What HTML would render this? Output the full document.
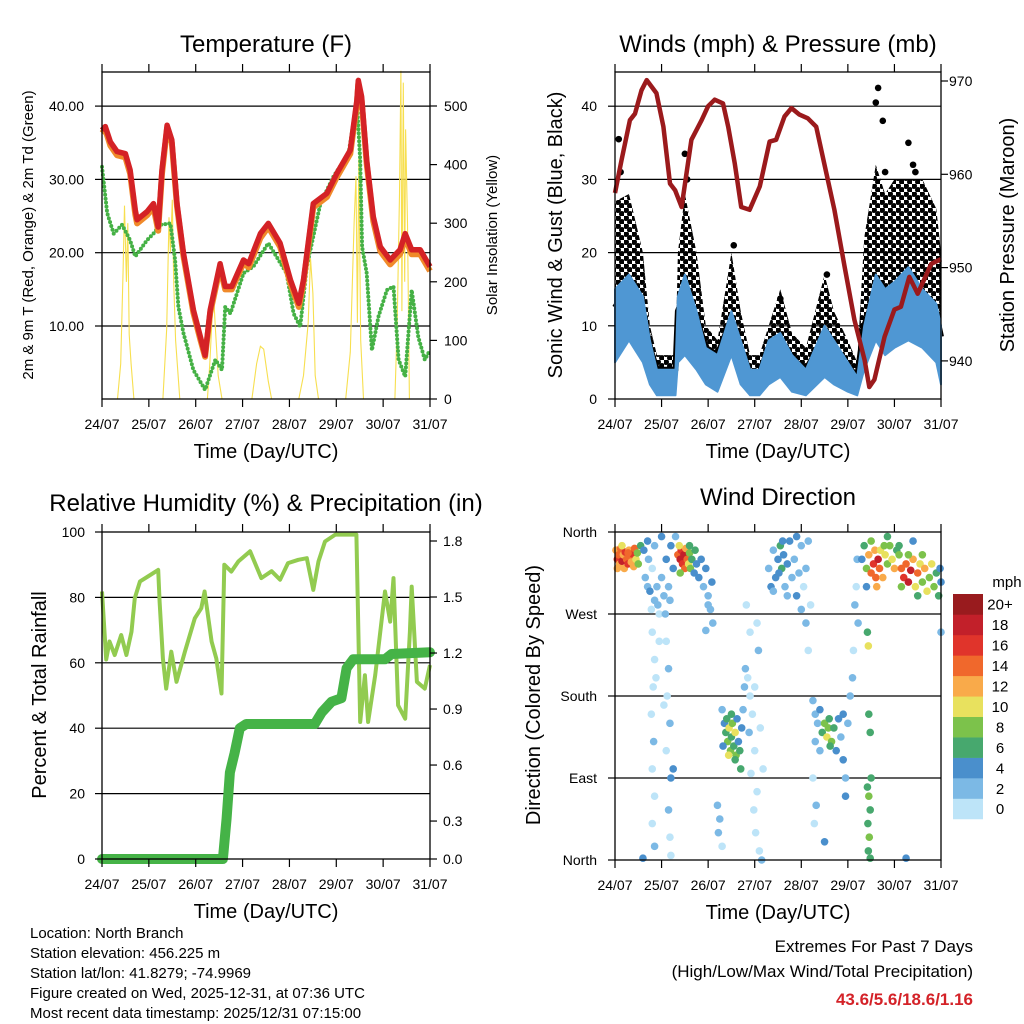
<!DOCTYPE html>
<html><head><meta charset="utf-8"><style>
html,body{margin:0;padding:0;background:#fff;}
svg{display:block;font-family:"Liberation Sans",Arial,sans-serif;}
</style></head><body>
<svg id="fig" width="1024" height="1024" viewBox="0 0 1024 1024" xmlns="http://www.w3.org/2000/svg">
<defs>
<pattern id="dotpat" width="8" height="8" patternUnits="userSpaceOnUse">
<circle cx="2" cy="2" r="3" fill="#000"/>
<circle cx="6" cy="6" r="3" fill="#000"/>
</pattern>
</defs>
</svg>
<script>
// ---------- DATA ----------
const dayLabels=["24/07","25/07","26/07","27/07","28/07","29/07","30/07","31/07"];
const tempT=[0,0.07,0.18,0.32,0.5,0.6,0.71,0.75,0.96,1.1,1.2,1.28,1.39,1.49,1.6,1.74,1.95,2.1,2.2,2.31,2.52,2.63,2.77,3.02,3.13,3.38,3.55,3.8,4.02,4.2,4.3,4.51,4.8,5.01,5.3,5.44,5.47,5.54,5.65,5.79,5.94,6.15,6.36,6.47,6.61,6.79,7];
const tempRed=[36.7,37.2,35.1,33.8,33.5,31.3,25.8,24.5,25.6,26.7,23.5,31.3,37.4,35.4,26.7,19.9,12.2,8.5,6,12.2,18.5,15.4,15.4,19,18.5,22.6,24,21.3,16.3,13.1,16.3,26.7,28.1,30.8,34,40.8,43.5,41.3,32.6,24.9,20.8,19,20.4,22.6,20.4,20.4,18.1];
const tempOrange=[36.3,36.8,34.6,33.3,33,30.8,25.2,24,25.1,26.2,23,30.8,37,35,26.3,19.5,11.8,8.1,5.8,11.8,18,15,15,18.6,18,22,23.5,20.8,15.8,12.6,15.9,26.2,27.6,30.3,33.5,40.3,43,40.8,32.1,24.3,20.2,18.4,19.8,22,19.8,19.8,17.5];
const dewT=[0,0.11,0.25,0.43,0.6,0.71,0.96,1.1,1.24,1.46,1.56,1.63,1.74,1.95,2.2,2.42,2.56,2.63,2.74,3.02,3.23,3.55,3.94,4.09,4.23,4.37,4.66,4.94,5.26,5.44,5.51,5.55,5.65,5.76,5.9,6.08,6.22,6.33,6.47,6.61,6.75,6.89,7];
const dewV=[31.7,25.4,22.6,23.8,21.7,19.5,21.7,22.6,23.8,24,19,12.6,9,4,1.3,5.4,4,12.6,11.7,17.2,18.1,21.3,17.2,11.7,9.9,18.1,26.7,30.4,33.5,40.6,32.6,20.8,17.2,6.7,11.3,14.9,15.4,5.4,3.1,14.9,8.5,5.4,6.7];
const solarT=[0,0.33,0.4,0.45,0.48,0.52,0.55,0.58,0.62,0.68,1.3,1.38,1.43,1.46,1.5,1.53,1.57,1.66,2.25,2.3,2.35,2.38,2.42,2.48,2.56,3.2,3.3,3.38,3.45,3.55,3.62,4.2,4.3,4.4,4.45,4.5,4.55,4.62,5.2,5.3,5.38,5.42,5.45,5.48,5.52,5.58,6.25,6.3,6.35,6.38,6.4,6.43,6.46,6.48,6.52,6.56,7];
const solarV=[0,0,60,220,330,200,300,110,60,0,0,120,310,250,340,200,100,0,0,60,140,180,120,40,0,0,60,90,85,30,0,0,40,130,240,180,40,0,0,80,300,380,130,410,100,0,0,130,350,560,150,540,200,460,300,0,0];
const tempTicks=[10,20,30,40];
const solarTicks=[0,100,200,300,400,500];
const windT=[0,0.3,0.6,0.75,0.9,1.1,1.3,1.35,1.5,1.75,1.95,2.2,2.5,2.7,2.9,3.1,3.3,3.55,3.8,4.1,4.5,4.7,5.0,5.2,5.35,5.6,5.8,6.0,6.3,6.6,6.9,7];
const sonicLo=[5,8,5,2,0.5,0.5,0.5,5,6,4,2,1,6,2,0.5,0.5,2,3,1,0.5,3,2,1,0.5,4,8,6,7,8,7,5,2];
const sonicHi=[15,17,14,8,4,4,4,14,17,12,7,6,12,8,4,4,8,9,6,4,10,8,5,3,10,17,15,16,18,15,13,10];
const gustLo=[8,12,8,4,2,2,2,8,10,8,5,4,8,4,1,1,4,5,3,2,5,4,2,1,8,10,9,10,12,10,8,5];
const gustHi=[27,28,20,10,6,6,6,20,28,20,10,8,20,12,6,6,10,15,9,7,17,12,8,5,22,32,28,30,30,30,26,20];
const gustOutT=[0.08,0.12,1.5,1.55,2.55,3.55,4.55,5.6,5.65,5.75,5.8,6.3,6.4,6.45];
const gustOutV=[35.5,31,33.5,30,21,13.7,17,40.5,42.5,38,31,35,32,31];
const presT=[0,0.14,0.32,0.43,0.57,0.68,0.89,1.04,1.18,1.29,1.43,1.64,1.86,2,2.14,2.32,2.43,2.57,2.71,2.89,3.11,3.32,3.46,3.64,3.79,3.96,4.14,4.32,4.54,4.71,4.93,5.14,5.36,5.46,5.57,5.79,6,6.14,6.32,6.5,6.79,7];
const presV=[958,961.5,965.8,966.5,969,970.1,968.7,965.1,959,958.3,956.5,963.7,965.8,967.3,968,967.6,965.1,961.2,956.5,956.2,958.7,963.5,963.7,966.2,967.1,966.4,966,965.1,960.1,956.2,950.1,944.4,940.1,937.2,938,942.6,945.5,945.8,949,947.2,950.4,950.9];
const windTicks=[0,10,20,30,40];
const presTicks=[940,950,960,970];
const rhT=[0,0.09,0.16,0.27,0.41,0.52,0.63,0.7,0.81,0.98,1.2,1.23,1.3,1.37,1.48,1.59,1.77,1.98,2.12,2.19,2.34,2.44,2.55,2.61,2.76,2.91,3.16,3.4,3.62,3.8,3.97,4.19,4.37,4.51,4.62,4.76,4.98,5.43,5.51,5.61,5.68,5.83,6.04,6.15,6.22,6.32,6.47,6.57,6.61,6.72,6.89,7];
const rhV=[81.8,61,66.5,62.4,68.5,62.4,69.5,79.8,84.9,86.4,88.4,78.7,61.3,52.1,63.4,54.2,63.4,73.6,76.7,81.8,66.5,61.3,50.6,90,87.9,91,94.1,85.9,88,85.4,90.5,91.5,92,82.3,91,97.1,99.2,99.2,41.9,56.2,41.9,56.2,81.8,72.6,85.9,47,42.9,69.5,83.3,54.2,52.1,59.3];
const rainT=[0,2.58,2.66,2.73,2.83,2.94,3.08,4.54,4.69,4.9,5.11,5.22,5.36,6.04,6.18,7];
const rainV=[0,0,0.23,0.49,0.6,0.74,0.764,0.764,0.83,0.89,0.91,1.08,1.13,1.13,1.16,1.17];
const rhTicks=[0,20,40,60,80,100];
const rainTicks=["0.0","0.3","0.6","0.9","1.2","1.5","1.8"];
const dirObs=[
[0.02,340,13],[0.05,330,17],[0.08,335,14],[0.1,325,12],[0.12,342,15],[0.15,328,18],[0.18,335,13],[0.2,320,12],[0.22,338,16],[0.25,330,14],[0.28,325,17],[0.3,340,12],[0.32,333,15],[0.35,327,13],[0.38,336,16],[0.4,322,12],[0.42,342,14],[0.45,330,11],[0.48,337,9],[0.5,325,8],[0.55,345,6],[0.05,320,12],[0.15,345,11],[0.28,337,14],
[0.62,340,4],[0.65,310,2],[0.7,300,3],[0.72,330,2],[0.75,295,4],[0.8,320,1],[0.85,285,2],[0.9,300,3],[0.95,270,1],[1.0,310,2],[1.05,290,3],[1.1,330,4],[1.15,300,2],[1.2,345,5],[1.25,320,4],[1.3,355,3],[0.7,350,5],[0.85,345,3],[1.0,355,4],[0.78,275,1],[0.92,280,2],[1.08,270,2],[1.18,285,3],
[0.8,250,1],[0.85,220,0],[0.82,190,1],[0.78,160,0],[0.83,130,2],[0.8,100,1],[0.85,70,0],[0.8,40,1],[0.85,15,2],[0.88,200,0],[1.1,240,1],[1.15,210,2],[1.12,180,0],[1.18,150,3],[1.1,120,1],[1.2,90,4],[1.15,55,2],[1.18,25,1],[1.2,5,1],[1.25,100,4],[0.6,2,4],[1.05,170,1],[0.95,240,0],
[1.35,335,14],[1.4,330,18],[1.42,340,16],[1.45,325,17],[1.48,335,19],[1.5,320,15],[1.52,342,12],[1.55,330,14],[1.58,325,10],[1.6,337,9],[1.62,320,8],[1.38,345,11],[1.65,330,6],[1.7,315,5],[1.72,340,7],[1.75,325,4],[1.8,310,5],[1.85,330,4],[1.9,300,3],[1.95,320,4],[2.0,290,3],[1.4,315,8],[1.6,345,7],
[2.05,275,2],[2.1,260,3],[1.95,252,2],[2.08,305,4],[2.2,60,2],[2.25,45,3],[2.22,30,2],[2.3,15,1],[2.0,280,2],
[2.3,165,3],[2.35,150,4],[2.38,140,6],[2.4,155,7],[2.42,130,8],[2.45,145,10],[2.48,120,9],[2.5,135,7],[2.52,150,8],[2.55,125,6],[2.58,140,10],[2.6,115,8],[2.62,155,5],[2.65,130,4],[2.68,120,6],[2.72,145,4],[2.75,165,3],[2.78,190,2],[2.8,210,3],[2.44,115,11],[2.5,160,6],[2.32,125,4],[2.58,110,7],[2.7,100,6],
[2.85,200,1],[2.9,180,0],[2.95,160,1],[2.88,140,2],[3.0,120,0],[2.92,95,1],[3.05,75,0],[2.98,55,1],[3.02,30,0],[3.1,10,1],[3.15,0,2],[2.9,250,1],[3.08,230,2],[3.12,145,0],[3.18,100,1],[2.82,280,0],[3.05,260,0],[3.0,190,1],
[3.3,320,3],[3.35,300,4],[3.4,340,2],[3.45,310,5],[3.5,330,4],[3.55,345,6],[3.58,320,7],[3.62,335,4],[3.65,300,3],[3.7,325,5],[3.75,350,4],[3.8,310,3],[3.85,330,2],[3.9,290,4],[3.95,315,3],[4.0,345,2],[4.05,300,1],[4.1,320,3],[4.15,350,2],[4.2,280,1],[3.4,295,2],[3.6,350,4],[3.52,315,5],[3.7,290,3],[3.9,355,4],[4.1,260,3],[4.15,230,1],[4.0,275,2],
[4.25,175,2],[4.3,160,3],[4.35,150,2],[4.4,165,4],[4.45,140,6],[4.5,150,8],[4.55,135,10],[4.58,145,9],[4.6,155,7],[4.65,130,8],[4.7,145,6],[4.75,120,5],[4.8,155,4],[4.85,135,3],[4.9,110,4],[4.95,90,3],[5.0,150,2],[4.3,130,2],[4.4,120,3],[4.62,125,6],[4.9,160,5],[4.25,90,1],[4.32,60,2],[4.28,40,1],[4.5,20,4],[4.95,70,4],[5.05,180,3],[5.1,200,2],[5.12,230,1],[5.15,280,2],[5.18,300,1],[5.2,330,3],[5.22,260,2],
[5.42,80,7],[5.45,70,8],[5.48,55,6],[5.43,40,7],[5.46,25,8],[5.44,10,6],[5.48,2,7],[5.5,90,6],[5.45,160,7],[5.48,140,6],[5.42,250,7],[5.44,235,10],
[5.3,330,4],[5.35,345,6],[5.4,320,8],[5.45,335,12],[5.5,315,14],[5.55,325,16],[5.58,340,13],[5.6,310,15],[5.65,330,18],[5.68,320,14],[5.7,340,11],[5.75,310,12],[5.8,335,10],[5.85,325,9],[5.9,345,8],[5.95,330,10],[6.0,320,12],[6.05,340,7],[6.1,335,9],[5.62,300,13],[5.5,350,8],[5.85,355,6],[5.4,300,5],[5.78,345,9],
[6.15,320,14],[6.2,310,17],[6.25,325,15],[6.3,305,18],[6.35,318,19],[6.4,330,12],[6.45,300,10],[6.5,315,14],[6.55,325,11],[6.6,305,9],[6.65,320,12],[6.7,295,10],[6.75,310,8],[6.8,325,11],[6.85,300,9],[6.9,315,7],[6.95,290,6],[7.0,305,5],[6.3,335,8],[6.6,335,9],[6.5,290,7],[6.98,320,4],[7.0,250,3],[6.4,350,5],[6.1,345,6],[6.15,300,8],[6.25,2,4]
];
const dirTickLabels=["North","East","South","West","North"];
const dirTickVals=[0,90,180,270,360];
const speedLevels=["0","2","4","6","8","10","12","14","16","18","20+"];
const speedColors=["#bde4f8","#7cb9e5","#4a8fcc","#47a86e","#7cc24b","#e8e15e","#f9aa4a","#f0682c","#e0342b","#c2202a","#991b1e"];

// ---------- HELPERS ----------
const NS="http://www.w3.org/2000/svg";
const svg=document.getElementById("fig");
function mk(tag,attrs,parent){const e=document.createElementNS(NS,tag);for(const k in attrs)e.setAttribute(k,attrs[k]);(parent||svg).appendChild(e);return e;}
function txt(s,x,y,size,anchor,parent,extra){const e=mk("text",Object.assign({x:x,y:y,"font-size":size,"text-anchor":anchor||"middle",fill:"#000"},extra||{}),parent);e.textContent=s;return e;}
function pathD(xs,ys){return xs.map((x,i)=>(i?"L":"M")+x.toFixed(1)+","+ys[i].toFixed(1)).join("");}
function bandD(xs,hi,lo){return pathD(xs,hi)+pathD(xs.slice().reverse(),lo.slice().reverse()).replace("M","L")+"Z";}

function panel(name,x0,x1,y0,y1){
  const g=mk("g",{});
  
  
  const xs=t=>x0+t*(x1-x0)/7;
  return {g,x0,x1,y0,y1,xs};
}
function frame(p,ticksY,ysFn,gridName){
  ticksY.forEach(v=>{const y=ysFn(v);
    if(y>p.y0+1&&y<p.y1-1){const l=mk("line",{x1:p.x0,x2:p.x1,y1:y,y2:y,stroke:"#000","stroke-width":1.2},p.g);
      
      }
  });
}
function box(p){
  const r=mk("rect",{x:p.x0,y:p.y0,width:p.x1-p.x0,height:p.y1-p.y0,fill:"none",stroke:"#000","stroke-width":1.3},p.g);
  
  
  for(let d=0;d<=7;d++){const x=p.xs(d);
    mk("line",{x1:x,x2:x,y1:p.y1,y2:p.y1+8,stroke:"#000","stroke-width":1.2},p.g);
    mk("line",{x1:x,x2:x,y1:p.y0,y2:p.y0-8,stroke:"#000","stroke-width":1.2},p.g);
    const t=txt(dayLabels[d],x,p.y1+30,14,"middle",p.g);
    
    
  }
  const xt=txt("Time (Day/UTC)",(p.x0+p.x1)/2,p.y1+59,20,"middle",p.g);
  
  
}
function yTicks(p,vals,labels,ysFn,side,lx,name){
  vals.forEach((v,i)=>{const y=ysFn(v);
    const x=side==="left"?p.x0:p.x1;
    mk("line",{x1:x,x2:side==="left"?x-7:x+7,y1:y,y2:y,stroke:"#000","stroke-width":1.2},p.g);
    const t=txt(labels[i],lx,y+5,14,side==="left"?"end":"start",p.g);
    
    
  });
}
function vtitle(s,x,y,size,parent,name){
  const t=txt(s,x,y,size,"middle",parent,{transform:"rotate(-90 "+x+" "+y+")"});
  
  
}
function title(s,x,y,name){const t=txt(s,x,y,24,"middle");
  
  }

// ---------- PANEL 1: TEMPERATURE ----------
{
  const p=panel("temperature-panel",102,430,72,399);
  const yT=v=>399.3-v*7.33, yS=v=>399-v*0.586;
  frame(p,tempTicks,yT,"temp-gridline");
  const sol=mk("path",{d:pathD(solarT.map(p.xs),solarV.map(yS)),fill:"none",stroke:"#f7df4f","stroke-width":1.1},p.g);
  
  
  const dw=mk("path",{d:pathD(dewT.map(p.xs),dewV.map(yT)),fill:"none",stroke:"#45b145","stroke-width":4,"stroke-linecap":"round","stroke-linejoin":"round","stroke-dasharray":"0 4"},p.g);
  
  
  const or=mk("path",{d:pathD(tempT.map(p.xs),tempOrange.map(yT)),fill:"none",stroke:"#f08a2a","stroke-width":6,"stroke-linejoin":"round"},p.g);
  
  
  const rd=mk("path",{d:pathD(tempT.map(p.xs),tempRed.map(yT)),fill:"none",stroke:"#d42226","stroke-width":5.5,"stroke-linejoin":"round"},p.g);
  
  
  box(p);
  yTicks(p,tempTicks,tempTicks.map(v=>v.toFixed(2)),yT,"left",84,"temp-y-tick-label");
  yTicks(p,solarTicks,solarTicks.map(String),yS,"right",444,"solar-y-tick-label");
  title("Temperature (F)",266,52,"temperature-title");
  vtitle("2m & 9m T (Red, Orange) & 2m Td (Green)",33,235,15,p.g,"temp-y-axis-title");
  vtitle("Solar Insolation (Yellow)",497,235,15,p.g,"solar-y-axis-title");
}
// ---------- PANEL 2: WINDS ----------
{
  const p=panel("winds-panel",615,941,72,399);
  const yW=v=>399-v*7.32, yP=v=>81+(970-v)*9.33;
  frame(p,windTicks,yW,"wind-gridline");
  const xsW=windT.map(p.xs);
  const gb=mk("path",{d:bandD(xsW,gustHi.map(yW),gustLo.map(yW)),fill:"url(#dotpat)",stroke:"none"},p.g);
  
  
  const gl=mk("path",{d:pathD(xsW,gustLo.map((v,i)=>yW((v+sonicHi[i])/2+1))),fill:"none",stroke:"#000","stroke-width":6,"stroke-linejoin":"round"},p.g);
  
  
  gustOutT.forEach((t,i)=>{const c=mk("circle",{cx:p.xs(t),cy:yW(gustOutV[i]),r:3.3,fill:"#000"},p.g);
    
    });
  const sb=mk("path",{d:bandD(xsW,sonicHi.map(yW),sonicLo.map(yW)),fill:"#4f97d3",stroke:"#4f97d3","stroke-width":2,"stroke-linejoin":"round"},p.g);
  
  
  const pr=mk("path",{d:pathD(presT.map(p.xs),presV.map(yP)),fill:"none",stroke:"#9b1a1c","stroke-width":4.5,"stroke-linejoin":"round"},p.g);
  
  
  box(p);
  yTicks(p,windTicks,windTicks.map(String),yW,"left",597,"wind-y-tick-label");
  yTicks(p,presTicks,presTicks.map(String),yP,"right",949,"pressure-y-tick-label");
  title("Winds (mph) & Pressure (mb)",778,52,"winds-title");
  vtitle("Sonic Wind & Gust (Blue, Black)",562,235,20,p.g,"wind-y-axis-title");
  vtitle("Station Pressure (Maroon)",1014,235,20,p.g,"pressure-y-axis-title");
}
// ---------- PANEL 3: RH ----------
{
  const p=panel("humidity-panel",102,430,532,859);
  const yH=v=>859-v*3.27, yR=v=>859-v*176.7;
  frame(p,rhTicks,yH,"rh-gridline");
  const rh=mk("path",{d:pathD(rhT.map(p.xs),rhV.map(yH)),fill:"none",stroke:"#92cb50","stroke-width":4,"stroke-linejoin":"round"},p.g);
  
  
  const rn=mk("path",{d:pathD(rainT.map(p.xs),rainV.map(yR)),fill:"none",stroke:"#45b347","stroke-width":10,"stroke-linecap":"round","stroke-linejoin":"round"},p.g);
  
  
  box(p);
  yTicks(p,rhTicks,rhTicks.map(String),yH,"left",85,"rh-y-tick-label");
  const rLabY=v=>v===0?859:541+(1.8-v)*186.7;
  yTicks(p,rainTicks.map(Number),rainTicks,rLabY,"right",443,"rain-y-tick-label");
  title("Relative Humidity (%) & Precipitation (in)",266,511,"humidity-title");
  vtitle("Percent & Total Rainfall",46,695,20,p.g,"rh-y-axis-title");
}
// ---------- PANEL 4: WIND DIRECTION ----------
{
  const p=panel("wind-direction-panel",615,941,532,860);
  const yD=v=>860-v*328/360;
  frame(p,dirTickVals,yD,"direction-gridline");
  dirObs.forEach(o=>{const ci=Math.min(10,Math.floor(o[2]/2));
    const c=mk("circle",{cx:p.xs(o[0]),cy:yD(o[1]),r:3.8,fill:speedColors[ci]},p.g);
    
    });
  box(p);
  yTicks(p,dirTickVals,dirTickLabels,yD,"left",597,"direction-y-tick-label");
  title("Wind Direction",778,505,"wind-direction-title");
  vtitle("Direction (Colored By Speed)",540,695,20,p.g,"direction-y-axis-title");
  const cb=mk("g",{});
  
  
  const bh=20.45;
  speedLevels.forEach((s,i)=>{const y=594+(10-i)*bh;
    const r=mk("rect",{x:953,y:y,width:30,height:bh+0.3,fill:speedColors[i]},cb);
    
    
    const t=txt(s,1000,y+bh/2+5.5,15,"middle",cb);
    
    });
  const u=txt("mph",1007,587,15,"middle",cb);
  
  
}
// ---------- FOOTER ----------
{
  const info=["Location: North Branch","Station elevation: 456.225 m","Station lat/lon: 41.8279; -74.9969","Figure created on Wed, 2025-12-31, at 07:36 UTC","Most recent data timestamp: 2025/12/31 07:15:00"];
  const g=mk("g",{});
  
  
  info.forEach((s,i)=>{txt(s,30,938+i*20,15,"start",g);});
  const e=mk("g",{});
  
  
  txt("Extremes For Past 7 Days",973,952,17,"end",e);
  txt("(High/Low/Max Wind/Total Precipitation)",973,977,17,"end",e);
  txt("43.6/5.6/18.6/1.16",973,1005,17,"end",e,{fill:"#d42228","font-weight":"bold"});
}
</script>
</body></html>
